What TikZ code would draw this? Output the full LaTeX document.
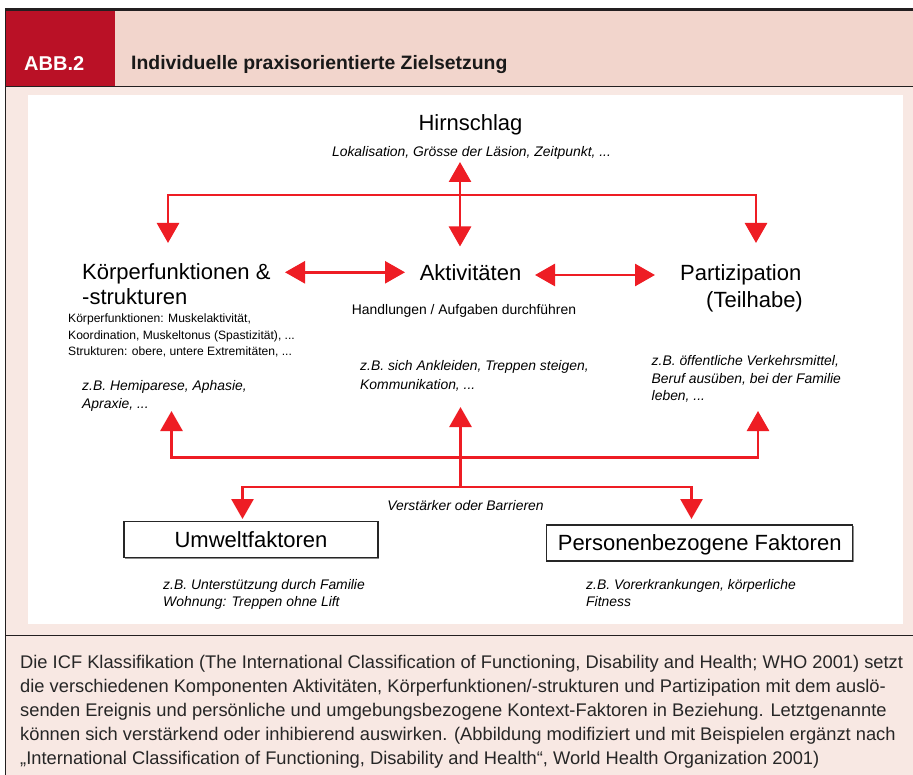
\documentclass[tikz,border=0pt]{standalone}
\usepackage{fontspec}
\setmainfont{Liberation Sans}
\usetikzlibrary{arrows.meta,shadows}
\definecolor{hdrpink}{HTML}{F2D5CC}
\definecolor{bodypink}{HTML}{F8E8E3}
\definecolor{abbred}{HTML}{BA1126}
\definecolor{arrred}{HTML}{EE1D24}
\definecolor{rulecol}{HTML}{231F20}
\begin{document}
\begin{tikzpicture}[x=1pt,y=-1pt,
  txt/.style={inner sep=0pt, text depth=0pt},
  hbig/.style={txt, font=\fontsize{22}{26}\selectfont, text height=15.8pt},
  itm/.style={txt, font=\fontsize{13.9}{16}\selectfont\itshape, text height=10pt},
  smt/.style={txt, font=\fontsize{12.1}{14}\selectfont, text height=8.7pt},
  midt/.style={txt, font=\fontsize{13.9}{16}\selectfont, text height=10pt},
  capt/.style={txt, anchor=west, font=\fontsize{18.3}{24}\selectfont, text height=13.1pt, text=black!85},
  factbox/.style={draw=black!85, line width=1.3pt, fill=white, inner sep=0pt,
     font=\fontsize{22}{26}\selectfont, text height=15.8pt, text depth=0pt,
     drop shadow={shadow xshift=1.2pt, shadow yshift=-1.2pt, fill=black!45, opacity=1}},
  redarr/.style={draw=arrred, line width=2.7pt},
  tip/.tip={Triangle[width=22pt,length=20pt]}
]
\useasboundingbox (0,0) rectangle (913,775);
% backgrounds
\fill[white] (0,0) rectangle (913,775);
\fill[bodypink] (5,87) rectangle (913,775);
\fill[hdrpink] (5,11) rectangle (913,87);
\fill[abbred] (5,11) rectangle (115,87);
\fill[white] (28,95) rectangle (903,624);
\draw[rulecol, line width=3pt] (5,10) -- (913,10);
\draw[rulecol, line width=1pt] (5,87) -- (913,87);
\draw[rulecol, line width=1pt] (5,635) -- (913,635);
\draw[rulecol, line width=1pt] (5.5,9) -- (5.5,775);
% header
\node[txt, anchor=west, text=white, font=\fontsize{20}{24}\selectfont\bfseries, text height=14.3pt] (abb) at (24,63) {ABB.2};
\node[txt, anchor=west, text=black!90, font=\fontsize{19.4}{24}\selectfont\bfseries, text height=14pt] (title) at (131,63) {Individuelle praxisorientierte Zielsetzung};
% main nodes
\node[hbig] (hirn) at (470.5,123) {Hirnschlag};
\node[itm] (lok) at (471.5,152) {Lokalisation, Grösse der Läsion, Zeitpunkt, ...};
\node[hbig, anchor=west] (koerper) at (82,272) {Körperfunktionen \&};
\node[hbig, anchor=west] (koerper2) at (82,296.5) {-strukturen};
\node[hbig] (akt) at (470.5,272.5) {Aktivitäten};
\node[hbig, anchor=west] (part) at (680,273) {Partizipation};
\node[hbig, anchor=west] (part2) at (706,300) {(Teilhabe)};
\node[midt] (handl) at (464,309.5) {Handlungen / Aufgaben durchführen};
\node[smt, anchor=west] (kf1) at (68,318.3) {Körperfunktionen: Muskelaktivität,};
\node[smt, anchor=west] (kf2) at (68,335) {Koordination, Muskeltonus (Spastizität), ...};
\node[smt, anchor=west] (kf3) at (68,350.7) {Strukturen: obere, untere Extremitäten, ...};
\node[itm, anchor=west] (kb1) at (82,386) {z.B. Hemiparese, Aphasie,};
\node[itm, anchor=west] (kb2) at (82,404) {Apraxie, ...};
\node[itm, anchor=west] (ab1) at (360,366) {z.B. sich Ankleiden, Treppen steigen,};
\node[itm, anchor=west] (ab2) at (360,384.5) {Kommunikation, ...};
\node[itm, anchor=west] (pb1) at (651.5,361) {z.B. öffentliche Verkehrsmittel,};
\node[itm, anchor=west] (pb2) at (651.5,379) {Beruf ausüben, bei der Familie};
\node[itm, anchor=west] (pb3) at (651.5,396) {leben, ...};
\node[itm] (verst) at (465.5,505) {Verstärker oder Barrieren};
\node[factbox, minimum width=254pt, minimum height=36pt] (umwelt) at (251,539.7) {Umweltfaktoren};
\node[factbox, minimum width=306pt, minimum height=36pt] (person) at (699.7,543) {Personenbezogene Faktoren};
\node[itm, anchor=west] (ub1) at (163,584) {z.B. Unterstützung durch Familie};
\node[itm, anchor=west] (ub2) at (163,601.5) {Wohnung: Treppen ohne Lift};
\node[itm, anchor=west] (fb1) at (586,584) {z.B. Vorerkrankungen, körperliche};
\node[itm, anchor=west] (fb2) at (586,601.5) {Fitness};
% connector end points
\coordinate (hUp) at (460,162);
\coordinate (aDown) at (460,246.5);
\coordinate (kTop) at (168,243);
\coordinate (pTop) at (756,243);
\coordinate (kR) at (285,272.3);
\coordinate (aL) at (405,272.3);
\coordinate (aR) at (535,275);
\coordinate (pL) at (655,275);
\coordinate (kUp) at (171.5,411);
\coordinate (pUp) at (758,411);
\coordinate (aUp) at (460.5,407);
\coordinate (mid) at (460.5,487);
\coordinate (uDown) at (242.5,519);
\coordinate (fDown) at (691.5,519);
% connectors
\draw[redarr, {tip}-{tip}] (hUp) -- (aDown);
\draw[redarr, {tip}-{tip}] (kTop) |- (460,195) -| (pTop);
\draw[redarr, {tip}-{tip}] (kR) -- (aL);
\draw[redarr, {tip}-{tip}] (aR) -- (pL);
\draw[redarr, {tip}-{tip}, line join=miter] (kUp) |- (460,457.7) -| (pUp);
\draw[redarr, -{tip}] (mid) -- (aUp);
\draw[redarr, {tip}-{tip}] (uDown) |- (mid) -| (fDown);
% caption
\node[capt] (cap1) at (20,662) {Die ICF Klassifikation (The International Classification of Functioning, Disability and Health; WHO 2001) setzt};
\node[capt] (cap2) at (20,686) {die verschiedenen Komponenten Aktivitäten, Körperfunktionen/-strukturen und Partizipation mit dem auslö-};
\node[capt] (cap3) at (20,710) {senden Ereignis und persönliche und umgebungsbezogene Kontext-Faktoren in Beziehung. Letztgenannte};
\node[capt] (cap4) at (20,734) {können sich verstärkend oder inhibierend auswirken. (Abbildung modifiziert und mit Beispielen ergänzt nach};
\node[capt] (cap5) at (20,758) {„International Classification of Functioning, Disability and Health“, World Health Organization 2001)};
\end{tikzpicture}
\end{document}
